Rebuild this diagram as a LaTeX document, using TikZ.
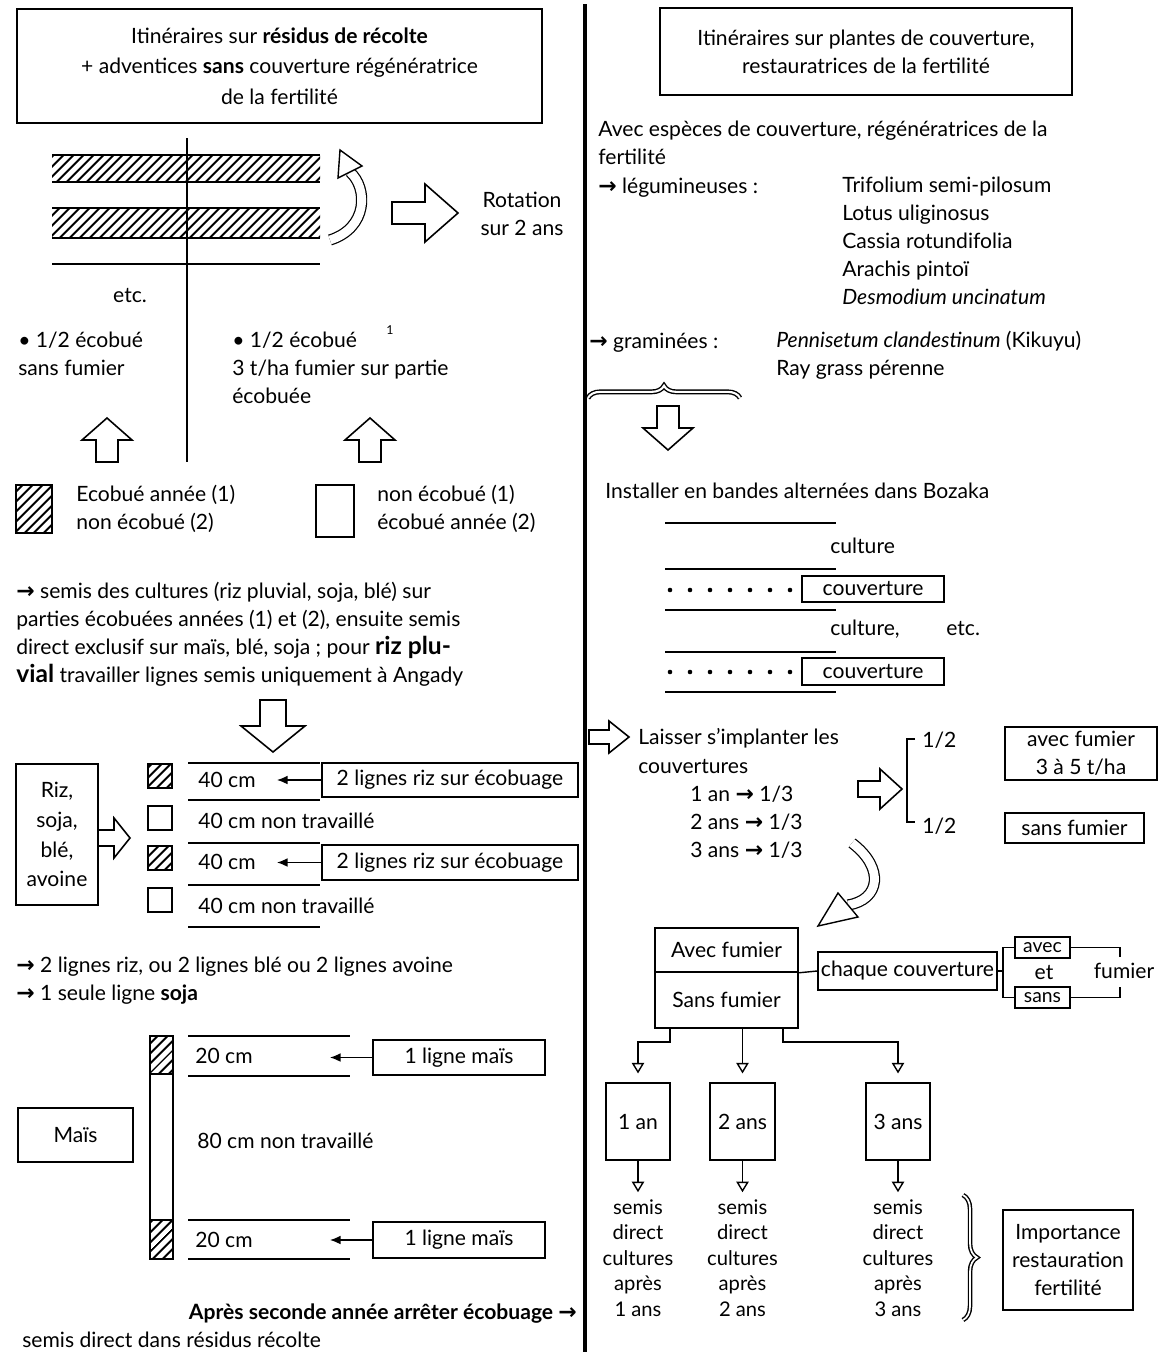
\documentclass[tikz,border=0pt]{standalone}
\usepackage{fontspec}
\setmainfont{Lato}
\newfontfamily\arrowfont{DejaVu Sans}
\newcommand{\rarrow}{{\arrowfont\bfseries\fontsize{12.5}{16}\selectfont →}}
\usetikzlibrary{arrows.meta,patterns.meta,decorations.pathreplacing}

\tikzset{
  txt/.style={inner sep=0pt, anchor=west, align=left},
  ctxt/.style={inner sep=0pt, align=center},
  box/.style={draw, line width=0.9pt, inner sep=0pt, align=center},
  size/.style args={#1/#2}{minimum width=#1*0.02cm, minimum height=#2*0.02cm},
  hatch/.style={pattern={Lines[angle=45,distance=4pt,line width=1.2pt]}},
  thin/.style={line width=0.8pt},
  tiparrow/.style={line width=0.8pt, -{Latex[length=6pt,width=5pt]}},
  droparrow/.style={line width=0.8pt, -{Triangle[open,length=6pt,width=7pt]}},
  hollow/.style={double, double distance=5pt, line width=0.7pt},
  headshape/.style={line width=0.8pt, fill=white, line join=miter},
  pics/blockarrow/.style args={#1/#2/#3}{code={
    \draw[line width=0.9pt, fill=white, line join=miter]
      ({-#1/2},{-#3/2}) -- (0,{-#3/2}) -- (0,{-#2/2}) -- ({#1/2},0)
      -- (0,{#2/2}) -- (0,{#3/2}) -- ({-#1/2},{#3/2}) -- cycle;
  }},
}

\begin{document}
\begin{tikzpicture}[x=0.02cm, y=-0.02cm, font=\fontsize{12}{16}\selectfont]
\useasboundingbox (0,0) rectangle (1164,1352);

\coordinate (divtop) at (585,4);
\coordinate (divbot) at (585,1352);
\draw[line width=2.4pt] (divtop) -- (divbot);

% left column
\node[box, size=525/114, font=\fontsize{12}{17.5}\selectfont] (lefttitle) at (279.5,66) {Itinéraires sur \textbf{résidus de récolte}\\+ adventices \textbf{sans} couverture régénératrice\\de la fertilité};

\fill[hatch] (52,155) rectangle (320,182);
\fill[hatch] (52,208) rectangle (320,238);
\draw[thin] (52,155) -- (320,155) (52,182) -- (320,182) (52,208) -- (320,208) (52,238) -- (320,238) (52,264) -- (320,264);
\draw[line width=1.6pt] (187,138) -- (187,462);

\draw[hollow] (330,240) .. controls (368,228) and (368,188) .. (350,172);
\draw[headshape] (340,150) -- (362,166) -- (338,178) -- cycle;
\pic at (425,213) {blockarrow={66/58/22}};
\node[ctxt] (rotation) at (522,214) {Rotation\\sur 2 ans};
\node[ctxt] (etc) at (130,296) {etc.};

\node[txt] (halfleft) at (18,354) {\textbullet\ 1/2 écobué\\sans fumier};
\node[txt] (halfright) at (232,368) {\textbullet\ 1/2 écobué\\3 t/ha fumier sur partie\\écobuée};
\node[ctxt, font=\scriptsize] (note) at (390,330) {1};
\pic[rotate=90] at (107,440) {blockarrow={44/50/22}};
\pic[rotate=90] at (370,440) {blockarrow={44/50/22}};

\draw[thin, hatch] (16,485) rectangle (52,533);
\draw[thin] (316,485) rectangle (354,537);
\node[txt] (leg1) at (76,509) {Ecobué année (1)\\non écobué (2)};
\node[txt] (leg2) at (377,509) {non écobué (1)\\écobué année (2)};

\node[txt] (semis) at (16,634) {\rarrow\ semis des cultures (riz pluvial, soja, blé) sur\\parties écobuées années (1) et (2), ensuite semis\\direct exclusif sur maïs, blé, soja ; pour {\fontsize{14}{16}\selectfont\bfseries riz plu-}\\{\fontsize{14}{16}\selectfont\bfseries vial} travailler lignes semis uniquement à Angady};
\pic[rotate=-90] at (273,726) {blockarrow={52/64/26}};

\node[box, size=82/141, font=\fontsize{12}{17}\selectfont] (riz) at (57,834.5) {Riz,\\soja,\\blé,\\avoine};
\pic at (114,838) {blockarrow={32/40/16}};
\foreach \y in {764,846} \draw[thin, hatch] (148,\y) rectangle (172,\y+24);
\foreach \y in {806,888} \draw[thin] (148,\y) rectangle (172,\y+24);
\foreach \y in {763,800,843,885,927} \draw[thin] (188,\y) -- (320,\y);
\node[box, size=256/34] (rizline1) at (450,780) {2 lignes riz sur écobuage};
\node[box, size=256/35] (rizline2) at (450,862.5) {2 lignes riz sur écobuage};
\node[txt] (cm1) at (198,780) {40 cm};
\node[txt] (cm2) at (198,821) {40 cm non travaillé};
\node[txt] (cm3) at (198,862) {40 cm};
\node[txt] (cm4) at (198,906) {40 cm non travaillé};
\coordinate (cm1end) at (277,780);
\coordinate (cm3end) at (277,862.5);
\draw[tiparrow] (rizline1) -- (cm1end);
\draw[tiparrow] (rizline2) -- (cm3end);

\node[txt] (lignes) at (16,981) {\rarrow\ 2 lignes riz, ou 2 lignes blé ou 2 lignes avoine\\\rarrow\ 1 seule ligne \textbf{soja}};

\fill[hatch] (150,1036) rectangle (173,1074);
\fill[hatch] (150,1220) rectangle (173,1259);
\draw[thin] (150,1036) rectangle (173,1259) (150,1074) -- (173,1074) (150,1220) -- (173,1220);
\foreach \y in {1036,1076,1220,1259} \draw[thin] (188,\y) -- (350,\y);
\node[txt] (cm20a) at (195,1056) {20 cm};
\node[txt] (cm80) at (197,1141) {80 cm non travaillé};
\node[txt] (cm20b) at (195,1240) {20 cm};
\node[box, size=172/35] (mais1) at (459,1057.5) {1 ligne maïs};
\node[box, size=172/36] (mais2) at (459,1240) {1 ligne maïs};
\coordinate (m1end) at (330,1057.5);
\coordinate (m2end) at (330,1240);
\draw[tiparrow] (mais1) -- (m1end);
\draw[tiparrow] (mais2) -- (m2end);
\node[box, size=115/54] (mais) at (75.5,1135) {Maïs};

\node[anchor=east, inner sep=0pt, font=\fontsize{12}{16}\selectfont\bfseries] (apres) at (577,1314) {Après seconde année arrêter écobuage \rarrow};
\node[txt] (residus) at (22,1340) {semis direct dans résidus récolte};

% right column
\node[box, size=412/87] (righttitle) at (866,51.5) {Itinéraires sur plantes de couverture,\\restauratrices de la fertilité};
\node[txt] (especes) at (598,143) {Avec espèces de couverture, régénératrices de la\\fertilité};
\node[txt] (legum) at (598,188) {\rarrow\ légumineuses :};
\node[txt] (species) at (842,241) {Trifolium semi-pilosum\\Lotus uliginosus\\Cassia rotundifolia\\Arachis pintoï\\\textit{Desmodium uncinatum}};
\node[txt] (gramin) at (589,343) {\rarrow\ graminées :};
\node[txt] (grass) at (776,355) {\textit{Pennisetum clandestinum} (Kikuyu)\\Ray grass pérenne};
\draw[thin, double, double distance=1.2pt, decorate, decoration={brace, amplitude=7pt}] (588,398) -- (740,398);
\pic[rotate=-90] at (668,428) {blockarrow={44/50/22}};

\node[txt] (installer) at (605,491) {Installer en bandes alternées dans Bozaka};
\foreach \y in {523,569,610,652,692} \draw[thin] (665,\y) -- (836,\y);
\foreach \y in {590,672} \foreach \x in {0,...,6} \fill (670+20*\x,\y) circle (1.3pt);
\node[box, size=142/26] (couv1) at (873,589) {couverture};
\node[box, size=142/27] (couv2) at (873,671.5) {couverture};
\node[txt] (cult1) at (830,546) {culture};
\node[txt] (cult2) at (830,629) {culture,};
\node[txt] (etc2) at (946,629) {etc.};

\pic at (609,737) {blockarrow={40/32/14}};
\node[txt] (laisser) at (638,751) {Laisser s'implanter les\\couvertures};
\node[txt] (annees) at (690,822) {1 an \rarrow\ 1/3\\2 ans \rarrow\ 1/3\\3 ans \rarrow\ 1/3};
\pic at (880,789) {blockarrow={44/40/16}};
\draw[thin] (915,739) -- (907,739) -- (907,822) -- (915,822);
\node[txt] (halfa) at (922,740) {1/2};
\node[txt] (halfb) at (922,826) {1/2};
\node[box, size=152/53] (avecbox) at (1081,753.5) {avec fumier\\3 à 5 t/ha};
\node[box, size=139/30] (sansbox) at (1074.5,828) {sans fumier};

\draw[hollow] (852,843) .. controls (885,868) and (880,900) .. (848,905);
\draw[headshape] (818,926) -- (838,893) -- (858,917) -- cycle;

\node[box, size=143/44] (avecf) at (726.5,950) {Avec fumier};
\node[box, size=143/56] (sansf) at (726.5,1000) {Sans fumier};
\node[box, size=179/38] (chaque) at (907.5,971) {chaque couverture};
\draw[thin] (avecf.south east) -- (chaque.west);

\coordinate (brk) at (1003,971);
\node[box, size=55/21, font=\fontsize{11}{13}\selectfont] (avecs) at (1042.5,947.5) {avec};
\node[box, size=55/21, font=\fontsize{11}{13}\selectfont] (sanss) at (1042.5,997.5) {sans};
\draw[thin] (chaque.east) -- (brk) (avecs.west) -| (brk) |- (sanss.west);
\coordinate (fumA) at (1120,957);
\coordinate (fumB) at (1120,987);
\draw[thin] (avecs.east) -| (fumA) (sanss.east) -| (fumB);
\node[ctxt] (et) at (1044,972) {et};
\node[ctxt] (fum) at (1124,971) {fumier};

\node[box, size=64/77] (an1) at (638,1121.5) {1 an};
\node[box, size=65/77] (an2) at (742.5,1121.5) {2 ans};
\node[box, size=64/77] (an3) at (898,1121.5) {3 ans};
\coordinate (fork1) at (670,1042);
\coordinate (fork3) at (783,1042);
\draw[droparrow, shorten >=5pt] (fork1 |- sansf.south) -- (fork1) -| (an1.north);
\draw[droparrow, shorten >=5pt] (an2.north |- sansf.south) -- (an2.north);
\draw[droparrow, shorten >=5pt] (fork3 |- sansf.south) -- (fork3) -| (an3.north);

\begin{scope}[font=\fontsize{11.5}{14.5}\selectfont]
\node[ctxt] (res1) at (638,1258) {semis\\direct\\cultures\\après\\1 ans};
\node[ctxt] (res2) at (742.5,1258) {semis\\direct\\cultures\\après\\2 ans};
\node[ctxt] (res3) at (898,1258) {semis\\direct\\cultures\\après\\3 ans};
\end{scope}
\draw[droparrow, shorten >=4pt] (an1) -- (res1);
\draw[droparrow, shorten >=4pt] (an2) -- (res2);
\draw[droparrow, shorten >=4pt] (an3) -- (res3);

\draw[thin, double, double distance=1pt, decorate, decoration={brace, amplitude=8pt}] (963,1195) -- (963,1320);
\node[box, size=130/100] (importance) at (1068,1260) {Importance\\restauration\\fertilité};
\end{tikzpicture}
\end{document}
